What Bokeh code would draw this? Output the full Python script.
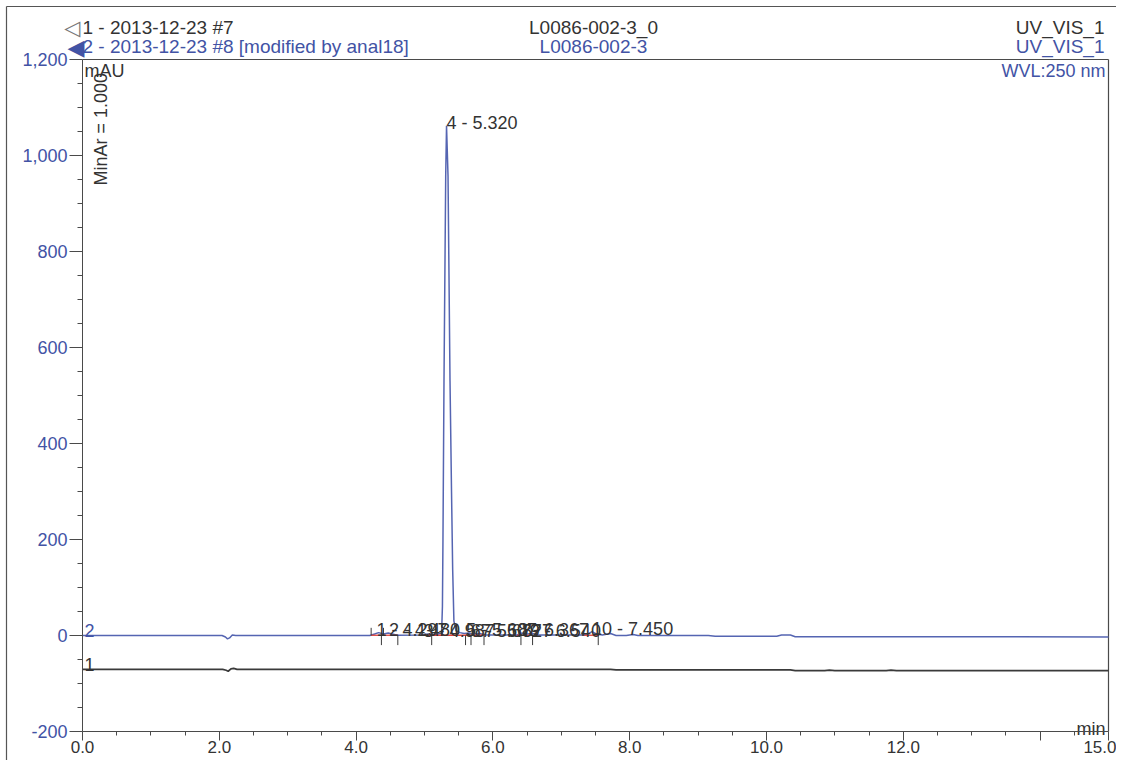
from bokeh.plotting import figure
from bokeh.models import FixedTicker, NumeralTickFormatter, Range1d, CustomJSTickFormatter
from bokeh.core.properties import value
from bokeh.embed import file_html
from bokeh.resources import INLINE

# ---------------- data ----------------
# trace 2 : 2013-12-23 #8 (blue), time in min, signal in mAU
t_trace2 = [0.0, 2.04, 2.09, 2.12, 2.15, 2.19, 2.24, 4.20, 4.27, 4.33, 4.40, 4.47, 4.53, 4.60,
            4.95, 5.05, 5.12, 5.20, 5.25, 5.262, 5.27, 5.285, 5.31, 5.322, 5.344, 5.373, 5.395,
            5.412, 5.43, 5.46, 5.52, 5.58, 5.65, 5.72, 5.80, 5.90, 6.35, 6.42, 6.50, 6.58, 6.65,
            7.30, 7.38, 7.45, 7.52, 7.60, 7.72, 7.80, 7.95, 8.05, 8.12, 9.15, 9.25, 10.15, 10.22,
            10.35, 10.42, 15.0]
v_trace2 = [0.0, 0.0, -3.0, -7.0, -5.0, 1.0, 0.0, 0.0, 3.0, 6.0, 3.0, 5.0, 3.0, 0.5,
            1.0, 3.0, 2.0, 3.0, 5.0, 60.0, 200.0, 530.0, 957.0, 1062.0, 957.0, 530.0, 300.0,
            137.0, 30.0, 10.0, 6.0, 4.0, 5.0, 3.0, 4.0, 1.0, 1.0, 5.0, 3.0, 4.0, 1.0,
            1.0, 3.0, 8.0, 3.0, 1.0, 4.0, 0.0, 0.0, 2.0, 0.0, 0.0, -1.5, -1.5, 1.0,
            1.0, -2.5, -3.0]

# trace 1 : 2013-12-23 #7 (grey), drawn with a vertical offset
t_trace1 = [0.0, 2.05, 2.10, 2.13, 2.17, 2.21, 2.26, 7.72, 7.80, 10.35, 10.42, 10.85, 10.92,
            11.00, 11.75, 11.82, 11.90, 15.0]
v_trace1 = [0.0, 0.0, -2.0, -4.0, 1.0, 2.0, 0.0, 0.0, -1.2, -1.2, -2.5, -2.5, -1.5,
            -2.5, -2.5, -1.5, -2.5, -2.5]
trace1_offset = -70.5

# integrated peaks
peak_no = [1, 2, 3, 4, 5, 6, 7, 8, 9, 10]
peak_rt = [4.297, 4.480, 4.987, 5.320, 5.607, 5.677, 5.827, 6.367, 6.540, 7.450]
peak_height = [6, 5, 3, 1062, 5, 3, 4, 5, 4, 8]

# peak delimiters and integration baselines
delim_below = [4.37, 4.61, 5.105, 5.60, 5.68, 5.87, 6.41, 6.58, 7.54]
delim_above = [4.22, 4.40]
base_start = [4.22, 4.99, 6.35, 7.33]
base_end = [4.61, 5.87, 6.58, 7.54]

x_major = [0, 2, 4, 6, 8, 10, 12, 14, 15]
x_minor = [0.5, 1, 1.5, 2.5, 3, 3.5, 4.5, 5, 5.5, 6.5, 7, 7.5, 8.5, 9, 9.5, 10.5, 11, 11.5,
           12.5, 13, 13.5, 14.5]
y_major = [-200, 0, 200, 400, 600, 800, 1000, 1200]
y_minor = [-150, -100, -50, 50, 100, 150, 250, 300, 350, 450, 500, 550, 650, 700, 750,
           850, 900, 950, 1050, 1100, 1150]

# ---------------- layout (pixels on the page) ----------------
W, H = 1116, 760
X0_PX, X15_PX = 82, 1108        # x = 0 and x = 15 min
Y1200_PX, YM200_PX = 59, 731    # y = 1200 and y = -200 mAU
SX = (X15_PX - X0_PX) / 15.0
SY = (YM200_PX - Y1200_PX) / 1400.0


def X(px):
    return (px - X0_PX) / SX


def Y(py):
    return 1200.0 - (py - Y1200_PX) / SY


FONT = "Liberation Sans"
BLUE_LINE = "#5565b2"
BLUE_TEXT = "#4253a5"
GREY_LINE = "#3a3a3a"
GREY_TEXT = "#333333"
RED = "#e0403a"
AXIS = "#4a4a4a"

p = figure(width=W, height=H, output_backend="svg", toolbar_location=None,
           x_range=Range1d(X(0), X(W)), y_range=Range1d(Y(H), Y(0)),
           min_border=0, min_border_left=0, min_border_right=0,
           min_border_top=0, min_border_bottom=0)
p.background_fill_color = "white"
p.border_fill_color = "white"
p.outline_line_color = None
p.xgrid.visible = False
p.ygrid.visible = False

xa = p.xaxis[0]
xa.fixed_location = -200
xa.bounds = (0, 15)
xa.ticker = FixedTicker(ticks=x_major, minor_ticks=x_minor)
xa.formatter = CustomJSTickFormatter(code="return tick == 14 ? '' : tick.toFixed(1);")
xa.axis_line_color = AXIS
xa.major_tick_line_color = AXIS
xa.minor_tick_line_color = AXIS
xa.major_tick_in = 0
xa.major_tick_out = 9
xa.minor_tick_in = 0
xa.minor_tick_out = 4
xa.major_label_standoff = 0
xa.major_label_text_font = FONT
xa.major_label_text_font_size = "17px"
xa.major_label_text_color = GREY_TEXT

ya = p.yaxis[0]
ya.fixed_location = 0
ya.bounds = (-200, 1200)
ya.ticker = FixedTicker(ticks=y_major, minor_ticks=y_minor)
ya.formatter = NumeralTickFormatter(format="0,0")
ya.axis_line_color = AXIS
ya.major_tick_line_color = AXIS
ya.minor_tick_line_color = AXIS
ya.major_tick_in = 0
ya.major_tick_out = 13
ya.minor_tick_in = 0
ya.minor_tick_out = 5
ya.major_label_standoff = 2
ya.major_label_text_font = FONT
ya.major_label_text_font_size = "18px"
ya.major_label_text_color = BLUE_TEXT

# frame (top and right sides) and outer border of the report
p.segment(x0=[0, 15], y0=[1200, -200], x1=[15, 15], y1=[1200, 1200],
          line_color=AXIS, line_width=1.2)
p.segment(x0=[X(6), X(6)], y0=[Y(6), Y(6)], x1=[X(W), X(6)], y1=[Y(6), Y(H)],
          line_color="#555555", line_width=1.2)

# traces
y_trace1 = [v + trace1_offset for v in v_trace1]
p.line(t_trace1, y_trace1, line_color=GREY_LINE, line_width=1.7)
p.line(t_trace2, v_trace2, line_color=BLUE_LINE, line_width=1.5)

# integration baselines and delimiters
p.segment(x0=base_start, y0=[0.5] * len(base_start), x1=base_end, y1=[0.5] * len(base_end),
          line_color=RED, line_width=1.3)
p.segment(x0=delim_below, y0=[0] * len(delim_below), x1=delim_below, y1=[-20] * len(delim_below),
          line_color=GREY_LINE, line_width=1)
p.segment(x0=delim_above, y0=[0] * len(delim_above), x1=delim_above, y1=[16] * len(delim_above),
          line_color=GREY_LINE, line_width=1)

# peak labels
peak_text = [f"{n} - {rt:.3f}" for n, rt in zip(peak_no, peak_rt)]
peak_label_y = [h + 6 for h in peak_height]
p.text(x=peak_rt, y=peak_label_y, text=peak_text, text_font=value(FONT),
       text_font_size="18px", text_color=GREY_TEXT, text_align="left",
       text_baseline="alphabetic")


def lab(x, y, text, color, size="18px", align="left", baseline="middle", angle=0.0, font=FONT):
    p.text(x=[x], y=[y], text=[text], text_font=value(font), text_font_size=size,
           text_color=color, text_align=align, text_baseline=baseline, angle=angle)


# header lines (page pixel positions)
lab(X(80), Y(27), "\u25c1", "#777777", size="21px", align="right", font="DejaVu Sans")
lab(X(82), Y(27), "1 - 2013-12-23 #7", GREY_TEXT, size="19px")
lab(X(593), Y(27), "L0086-002-3_0", GREY_TEXT, size="19px", align="center")
lab(X(1104), Y(27), "UV_VIS_1", GREY_TEXT, size="19px", align="right")

lab(X(84), Y(47), "\u25c0", BLUE_TEXT, size="22px", align="right", font="DejaVu Sans")
lab(X(82), Y(46), "2 - 2013-12-23 #8 [modified by anal18]", BLUE_TEXT, size="19px")
lab(X(593), Y(46), "L0086-002-3", BLUE_TEXT, size="19px", align="center")
lab(X(1104), Y(46), "UV_VIS_1", BLUE_TEXT, size="19px", align="right")

# inside-frame annotations
lab(X(84), Y(60), "mAU", GREY_TEXT, size="18px", baseline="top")
lab(X(1105), Y(60), "WVL:250 nm", BLUE_TEXT, size="18px", align="right", baseline="top")
lab(X(1105), -194, "min", GREY_TEXT, size="18px", align="right", baseline="alphabetic")
lab(X(100), Y(185), "MinAr = 1.000", GREY_TEXT, size="18px", angle=1.5707963)
lab(X(84), 10, "2", BLUE_TEXT, size="18px", baseline="alphabetic")
lab(X(84), trace1_offset + 11, "1", GREY_TEXT, size="18px", baseline="alphabetic")

open("out.html", "w").write(file_html(p, INLINE))
